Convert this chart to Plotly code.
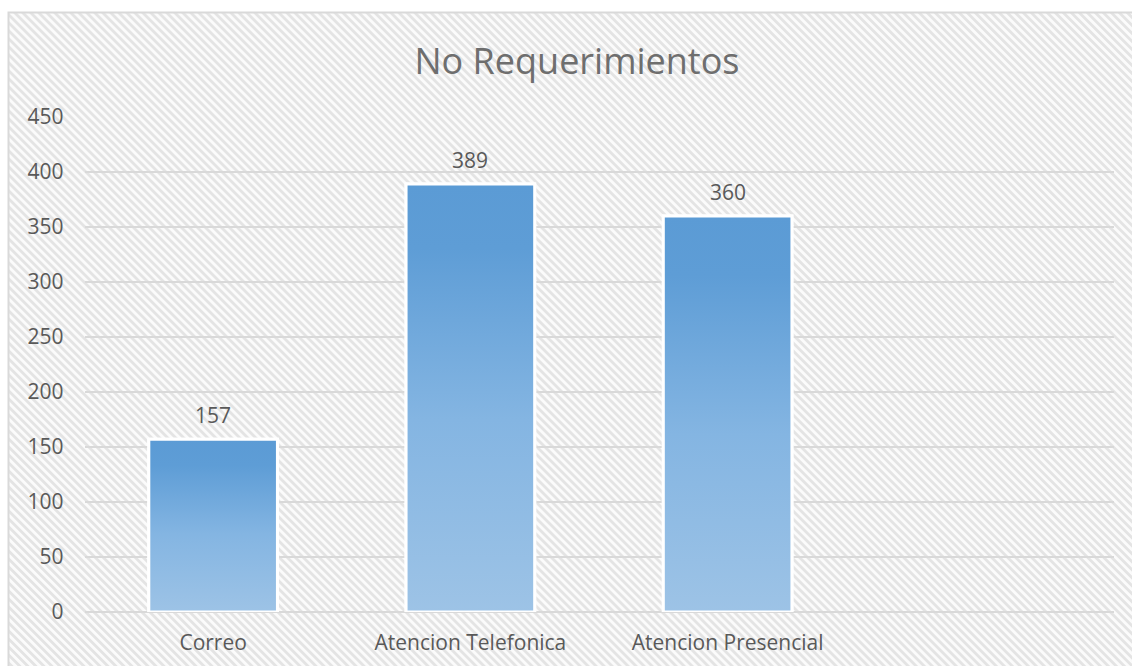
import base64
import plotly.graph_objects as go

# ---- data ----
categories = ["Correo", "Atencion Telefonica", "Atencion Presencial", ""]
values = [157, 389, 360, None]
title_text = "No Requerimientos"
y_ticks = [0, 50, 100, 150, 200, 250, 300, 350, 400, 450]

# ---- style ----
W, H = 1132, 666
BAR_W = 0.5
DARK = "#5b9bd5"
MID = "#7db0df"
LIGHT = "#9dc3e6"
TXT = "#595959"
GRID = "#d9d9d9"
FONT = "Open Sans"

x_pos = list(range(len(categories)))

fig = go.Figure()

# Base bars (data)
fig.add_trace(go.Bar(
    x=x_pos, y=values, width=BAR_W,
    marker=dict(color=MID, line=dict(color="white", width=3)),
    showlegend=False, hoverinfo="x+y",
))

# Gradient overlay for each bar, derived from the same data
for xi, v in zip(x_pos, values):
    if v is None:
        continue
    x0, x1 = xi - BAR_W / 2, xi + BAR_W / 2
    fig.add_trace(go.Scatter(
        x=[x0, x0, x1, x1, x0], y=[0, v, v, 0, 0],
        mode="lines", fill="toself",
        fillgradient=dict(type="vertical",
                          colorscale=[[0, LIGHT], [0.45, "#84b5e2"], [0.85, "#5e9dd6"], [1, DARK]]),
        line=dict(color="white", width=3),
        showlegend=False, hoverinfo="skip",
    ))
    fig.add_annotation(x=xi, y=v, text=str(v), showarrow=False,
                       yanchor="bottom", yshift=8,
                       font=dict(family=FONT, size=21, color=TXT))

# Hatched chart-area background
svg = (
    f"<svg xmlns='http://www.w3.org/2000/svg' width='{W}' height='{H}'>"
    "<defs><pattern id='p' patternUnits='userSpaceOnUse' width='5.66' height='5.66' "
    "patternTransform='rotate(-45)'>"
    "<rect width='5.66' height='5.66' fill='#fbfbfb'/>"
    "<rect width='2.83' height='5.66' fill='#e4e4e4'/>"
    "</pattern></defs>"
    f"<rect x='9' y='13' width='{W}' height='{H}' fill='url(#p)'/></svg>"
)
src = "data:image/svg+xml;base64," + base64.b64encode(svg.encode()).decode()
fig.add_layout_image(dict(source=src, xref="paper", yref="paper", x=0, y=1,
                          sizex=1, sizey=1, sizing="stretch", layer="below",
                          xanchor="left", yanchor="top"))

# chart-area border
fig.add_shape(type="rect", xref="paper", yref="paper",
              x0=8.5 / W, x1=1.05, y0=-0.05, y1=1 - 12.5 / H,
              line=dict(color=GRID, width=2), layer="below")

fig.update_layout(
    width=W, height=H, autosize=False,
    margin=dict(l=0, r=0, t=0, b=0, pad=0, autoexpand=False),
    paper_bgcolor="white", plot_bgcolor="rgba(0,0,0,0)",
    title=dict(text=title_text, x=577 / W, xanchor="center", y=1 - 61 / H, yanchor="middle",
               xref="paper", yref="paper", automargin=False,
               font=dict(family=FONT, size=36, color="#6e6e6e")),
    font=dict(family=FONT, color=TXT),
    xaxis=dict(domain=[84.5 / W, 1113.5 / W], range=[-0.5, len(categories) - 0.5],
               tickvals=x_pos, ticktext=categories, showgrid=False, showline=False,
               zeroline=False, ticks="", ticklabelstandoff=16, automargin=False,
               tickfont=dict(family=FONT, size=21, color=TXT)),
    yaxis=dict(domain=[(H - 612) / H, (H - 117) / H], range=[0, 450],
               tickvals=y_ticks, showgrid=True, gridcolor=GRID, gridwidth=2,
               zeroline=True, zerolinecolor=GRID, zerolinewidth=2,
               showline=False, ticks="", ticklabelstandoff=20, automargin=False,
               tickfont=dict(family=FONT, size=21, color=TXT)),
    bargap=0.5,
)

fig.write_html("out.html")
